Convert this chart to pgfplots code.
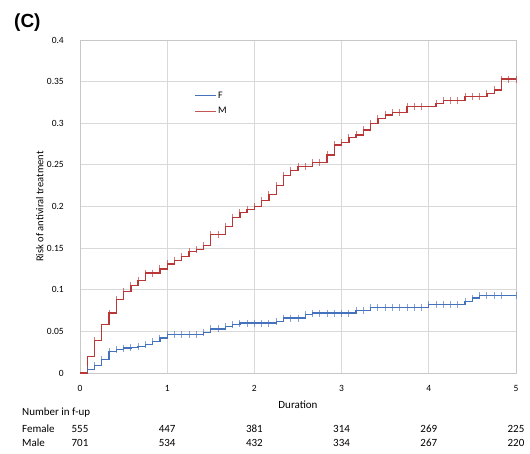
\documentclass[border=0pt]{standalone}
\usepackage{pgfplots}
\pgfplotsset{compat=1.18}
\usepackage{fontspec}
\setmainfont{Carlito}
\newfontfamily\arialfont{Liberation Sans}
\definecolor{kmblue}{RGB}{68,114,188}
\definecolor{kmred}{RGB}{185,55,55}
\definecolor{gridgray}{RGB}{217,217,217}

\begin{document}
\begin{tikzpicture}[x=1pt,y=1pt]
\path[use as bounding box] (0,0) rectangle (530,453);
\begin{axis}[
  at={(80pt,80pt)}, anchor=south west,
  scale only axis, width=436pt, height=333pt,
  xmin=0, xmax=60, ymin=0, ymax=0.4,
  xtick={0,12,24,36,48,60}, xticklabels={0,1,2,3,4,5},
  ytick={0,0.05,0.1,0.15,0.2,0.25,0.3,0.35,0.4},
  yticklabels={0,0.05,0.1,0.15,0.2,0.25,0.3,0.35,0.4},
  grid=major, major grid style={draw=gridgray, line width=0.8pt},
  axis line style={draw=gridgray!80!gray, line width=0.8pt},
  tick style={draw=none},
  tick label style={font=\fontsize{9.5}{11}\selectfont, inner sep=0pt},
  xticklabel style={anchor=center, yshift=-15pt},
  yticklabel style={anchor=east, xshift=-16pt},
  xlabel={Duration},
  xlabel style={at={(axis description cs:0.5,0)}, anchor=center, yshift=-32pt, font=\fontsize{11}{13}\selectfont, inner sep=0pt},
  ylabel={Risk of antiviral treatment},
  ylabel style={at={(axis description cs:-0.092,0.5)}, anchor=center, rotate=0, font=\fontsize{10.5}{12}\selectfont, inner sep=0pt},
  clip=false,
  legend style={at={(axis description cs:0.262,0.85)}, anchor=north west, draw=none, fill=none,
    font=\fontsize{10}{12}\selectfont, row sep=5pt, inner sep=0pt,
    nodes={inner sep=1.5pt}},
  legend cell align=left,
]
\addlegendimage{draw=kmblue, line width=1.3pt, legend image code/.code={\draw[draw=kmblue, line width=1.3pt] (0pt,0pt) -- (21pt,0pt);}}
\addlegendentry{F}
\addlegendimage{draw=kmred, line width=1.3pt, legend image code/.code={\draw[draw=kmred!85, line width=1.3pt] (0pt,0pt) -- (21pt,0pt);}}
\addlegendentry{M}
% Female step curve
\addplot[const plot, kmblue, line width=1.3pt, forget plot] table {
x y
0 0
1 0.004
2 0.009
3 0.016
4 0.026
5 0.028
6 0.030
7 0.031
8 0.032
9 0.034
10 0.038
11 0.042
12 0.046
17 0.049
18 0.053
20 0.056
21 0.058
22 0.060
27 0.062
28 0.066
31 0.070
32 0.072
38 0.075
40 0.079
48 0.082
53 0.086
54 0.090
55 0.093
60 0.093
};
% Male step curve
\addplot[const plot, kmred, line width=1.3pt, forget plot] table {
x y
0 0
1 0.020
2 0.039
3 0.058
4 0.072
5 0.088
6 0.098
7 0.105
8 0.111
9 0.120
11 0.125
12 0.131
13 0.135
14 0.140
15 0.146
16 0.148
17 0.153
18 0.166
20 0.176
21 0.187
22 0.193
23 0.196
24 0.200
25 0.207
26 0.214
27 0.225
28 0.237
29 0.243
30 0.248
32 0.253
34 0.262
35 0.274
36 0.277
37 0.283
38 0.286
39 0.292
40 0.300
41 0.306
42 0.310
43 0.313
45 0.320
49 0.324
50 0.327
53 0.332
56 0.336
57 0.340
58 0.353
60 0.353
};
% censor marks Female
\addplot[only marks, mark=|, mark size=3.5pt, mark options={draw=kmblue, draw opacity=0.65, line width=0.9pt}, forget plot] table {
x y
1 0.004
2 0.009
3 0.016
4 0.026
5 0.028
6 0.030
7 0.031
8 0.032
9 0.034
10 0.038
11 0.042
12 0.046
13 0.046
14 0.046
15 0.046
16 0.046
17 0.049
18 0.053
19 0.053
20 0.056
21 0.058
22 0.060
23 0.060
24 0.060
25 0.060
26 0.060
27 0.062
28 0.066
29 0.066
30 0.066
31 0.070
32 0.072
33 0.072
34 0.072
35 0.072
36 0.072
37 0.072
38 0.075
39 0.075
40 0.079
41 0.079
42 0.079
43 0.079
44 0.079
45 0.079
46 0.079
47 0.079
48 0.082
49 0.082
50 0.082
51 0.082
52 0.082
53 0.086
54 0.090
55 0.093
56 0.093
57 0.093
58 0.093
60 0.093
};
% censor marks Male
\addplot[only marks, mark=|, mark size=3.5pt, mark options={draw=kmred, draw opacity=0.65, line width=0.9pt}, forget plot] table {
x y
2 0.039
4 0.072
5 0.088
6 0.098
7 0.105
8 0.111
9 0.120
10 0.120
11 0.125
12 0.131
13 0.135
14 0.140
15 0.146
16 0.148
17 0.153
18 0.166
19 0.166
20 0.176
21 0.187
22 0.193
23 0.196
24 0.200
25 0.207
26 0.214
27 0.225
28 0.237
29 0.243
30 0.248
31 0.248
32 0.253
33 0.253
34 0.262
35 0.274
36 0.277
37 0.283
38 0.286
39 0.292
40 0.300
41 0.306
42 0.310
43 0.313
44 0.313
45 0.320
46 0.320
47 0.320
49 0.324
50 0.327
51 0.327
52 0.327
53 0.332
54 0.332
55 0.332
56 0.336
57 0.340
58 0.353
59 0.353
60 0.353
};
\end{axis}
% panel label
\node[anchor=west, inner sep=0pt, font=\arialfont\bfseries\fontsize{19}{22}\selectfont] at (14,430) {(C)};
% number at risk table
\begin{scope}[every node/.style={inner sep=0pt, font=\fontsize{11}{13}\selectfont}]
\node[anchor=west] at (22,40) {Number in f-up};
\node[anchor=west] at (22,24) {Female};
\node[anchor=west] at (22,10) {Male};
\node at (80,24) {555};   \node at (80,10) {701};
\node at (167.2,24) {447}; \node at (167.2,10) {534};
\node at (254.4,24) {381}; \node at (254.4,10) {432};
\node at (341.6,24) {314}; \node at (341.6,10) {334};
\node at (428.8,24) {269}; \node at (428.8,10) {267};
\node at (516,24) {225};   \node at (516,10) {220};
\end{scope}
\end{tikzpicture}
\end{document}
